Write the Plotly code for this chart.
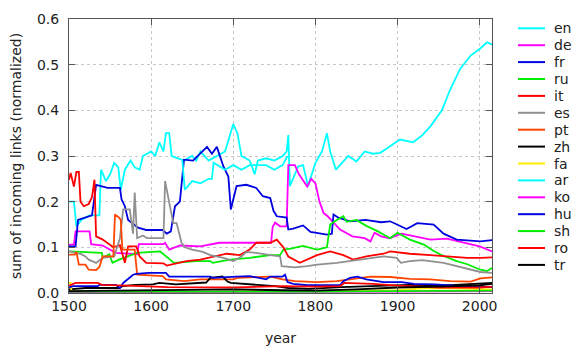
import plotly.graph_objects as go

en_years = [1500, 1506, 1509, 1515, 1525, 1537, 1539, 1545, 1550, 1555, 1560, 1563, 1568, 1575, 1580, 1586, 1590, 1600, 1605, 1610, 1615, 1618, 1622, 1625, 1640, 1650, 1655, 1660, 1670, 1680, 1690, 1695, 1700, 1705, 1710, 1720, 1726, 1730, 1740, 1750, 1760, 1765, 1767, 1769, 1779, 1785, 1791, 1800, 1808, 1814, 1818, 1825, 1830, 1840, 1850, 1860, 1870, 1879, 1890, 1903, 1919, 1930, 1940, 1954, 1964, 1976, 1989, 2001, 2009, 2015]
en_vals = [0.20, 0.20, 0.146, 0.16, 0.17, 0.17, 0.27, 0.245, 0.26, 0.285, 0.275, 0.226, 0.27, 0.29, 0.275, 0.27, 0.30, 0.31, 0.30, 0.33, 0.31, 0.35, 0.35, 0.30, 0.29, 0.30, 0.29, 0.31, 0.29, 0.30, 0.31, 0.34, 0.37, 0.35, 0.30, 0.29, 0.26, 0.29, 0.295, 0.29, 0.30, 0.31, 0.346, 0.234, 0.277, 0.28, 0.234, 0.285, 0.31, 0.35, 0.31, 0.27, 0.28, 0.30, 0.288, 0.31, 0.305, 0.307, 0.32, 0.336, 0.33, 0.345, 0.365, 0.40, 0.445, 0.49, 0.52, 0.536, 0.549, 0.544]

de_years = [1500, 1506, 1508, 1525, 1527, 1541, 1557, 1583, 1585, 1615, 1617, 1622, 1635, 1660, 1683, 1720, 1746, 1748, 1751, 1757, 1765, 1767, 1775, 1780, 1790, 1795, 1800, 1805, 1810, 1815, 1830, 1845, 1860, 1867, 1872, 1880, 1890, 1905, 1920, 1940, 1960, 1980, 2000, 2015]
de_vals = [0.106, 0.106, 0.135, 0.135, 0.107, 0.104, 0.088, 0.085, 0.107, 0.107, 0.11, 0.095, 0.104, 0.102, 0.11, 0.11, 0.11, 0.145, 0.154, 0.146, 0.146, 0.28, 0.28, 0.26, 0.233, 0.25, 0.24, 0.20, 0.175, 0.168, 0.139, 0.124, 0.12, 0.113, 0.132, 0.124, 0.12, 0.13, 0.124, 0.117, 0.119, 0.11, 0.102, 0.091]

fr_years = [1500, 1508, 1511, 1528, 1533, 1547, 1562, 1564, 1568, 1572, 1584, 1594, 1614, 1619, 1624, 1629, 1635, 1640, 1651, 1659, 1668, 1674, 1680, 1688, 1694, 1697, 1704, 1716, 1728, 1736, 1745, 1749, 1753, 1765, 1767, 1773, 1785, 1794, 1814, 1820, 1822, 1828, 1842, 1861, 1880, 1891, 1911, 1924, 1944, 1956, 1972, 2001, 2015]
fr_vals = [0.102, 0.102, 0.16, 0.17, 0.237, 0.23, 0.23, 0.205, 0.19, 0.16, 0.143, 0.138, 0.138, 0.13, 0.135, 0.19, 0.20, 0.292, 0.29, 0.305, 0.32, 0.305, 0.32, 0.277, 0.255, 0.183, 0.234, 0.237, 0.23, 0.212, 0.208, 0.18, 0.168, 0.165, 0.139, 0.141, 0.148, 0.134, 0.128, 0.13, 0.172, 0.165, 0.157, 0.16, 0.155, 0.157, 0.14, 0.153, 0.15, 0.13, 0.117, 0.113, 0.116]

ru_years = [1500, 1540, 1541, 1549, 1553, 1561, 1583, 1611, 1623, 1628, 1655, 1672, 1675, 1696, 1720, 1745, 1757, 1761, 1770, 1785, 1802, 1814, 1818, 1826, 1834, 1838, 1850, 1862, 1875, 1891, 1900, 1915, 1932, 1944, 1956, 1972, 1985, 2001, 2009, 2015]
ru_vals = [0.091, 0.088, 0.077, 0.085, 0.066, 0.073, 0.088, 0.091, 0.073, 0.066, 0.07, 0.07, 0.066, 0.073, 0.077, 0.083, 0.083, 0.095, 0.097, 0.103, 0.095, 0.10, 0.15, 0.16, 0.168, 0.156, 0.16, 0.147, 0.136, 0.12, 0.132, 0.117, 0.106, 0.092, 0.081, 0.07, 0.063, 0.051, 0.048, 0.055]

it_years = [1500, 1502, 1506, 1509, 1512, 1514, 1518, 1524, 1528, 1531, 1533, 1541, 1554, 1562, 1568, 1572, 1582, 1586, 1594, 1615, 1619, 1630, 1643, 1660, 1676, 1692, 1708, 1720, 1728, 1745, 1753, 1761, 1767, 1781, 1802, 1818, 1834, 1846, 1862, 1883, 1891, 1915, 1940, 1964, 1985, 2001, 2015]
it_vals = [0.248, 0.263, 0.233, 0.265, 0.265, 0.20, 0.19, 0.195, 0.21, 0.248, 0.124, 0.117, 0.10, 0.105, 0.066, 0.102, 0.102, 0.08, 0.066, 0.065, 0.06, 0.065, 0.07, 0.073, 0.08, 0.086, 0.083, 0.095, 0.11, 0.11, 0.117, 0.10, 0.08, 0.066, 0.083, 0.091, 0.083, 0.073, 0.08, 0.086, 0.091, 0.086, 0.083, 0.08, 0.077, 0.077, 0.078]

es_years = [1500, 1515, 1520, 1524, 1533, 1541, 1555, 1562, 1566, 1574, 1578, 1580, 1583, 1590, 1595, 1615, 1617, 1620, 1624, 1627, 1631, 1637, 1641, 1650, 1663, 1672, 1688, 1700, 1710, 1716, 1728, 1745, 1757, 1759, 1775, 1790, 1802, 1826, 1842, 1862, 1883, 1899, 1904, 1915, 1930, 1956, 1972, 1989, 2001, 2015]
es_vals = [0.091, 0.085, 0.08, 0.073, 0.066, 0.077, 0.08, 0.12, 0.183, 0.183, 0.13, 0.22, 0.12, 0.126, 0.12, 0.12, 0.245, 0.22, 0.18, 0.153, 0.153, 0.11, 0.10, 0.095, 0.09, 0.083, 0.077, 0.07, 0.08, 0.09, 0.088, 0.083, 0.08, 0.059, 0.056, 0.059, 0.062, 0.066, 0.07, 0.074, 0.08, 0.077, 0.066, 0.07, 0.072, 0.066, 0.059, 0.05, 0.046, 0.044]

pt_years = [1500, 1507, 1509, 1512, 1520, 1524, 1533, 1537, 1541, 1554, 1556, 1561, 1563, 1565, 1580, 1583, 1614, 1618, 1640, 1660, 1680, 1700, 1705, 1745, 1760, 1775, 1802, 1826, 1842, 1867, 1891, 1915, 1940, 1964, 1989, 2001, 2015]
pt_vals = [0.084, 0.084, 0.09, 0.062, 0.062, 0.051, 0.05, 0.057, 0.08, 0.08, 0.172, 0.165, 0.16, 0.095, 0.095, 0.04, 0.037, 0.03, 0.026, 0.03, 0.03, 0.03, 0.033, 0.036, 0.03, 0.026, 0.024, 0.026, 0.03, 0.036, 0.035, 0.031, 0.03, 0.026, 0.025, 0.032, 0.034]

zh_years = [1500, 1510, 1520, 1561, 1565, 1581, 1602, 1610, 1630, 1667, 1672, 1687, 1693, 1697, 1720, 1740, 1751, 1767, 1792, 1832, 1873, 1914, 1954, 1995, 2015]
zh_vals = [0.008, 0.01, 0.011, 0.011, 0.015, 0.018, 0.019, 0.022, 0.019, 0.023, 0.033, 0.036, 0.025, 0.022, 0.019, 0.017, 0.015, 0.011, 0.009, 0.013, 0.016, 0.018, 0.016, 0.02, 0.022]

fa_years = [1500, 1502, 1503, 1540, 1600, 1700, 1800, 1900, 1930, 1970, 2015]
fa_vals = [0.022, 0.022, 0.004, 0.003, 0.002, 0.003, 0.004, 0.006, 0.01, 0.01, 0.008]

ar_years = [1638, 1641, 1650, 1660, 1670, 1674, 1676, 1690, 1700, 1710, 1720, 1740, 1750, 1760, 1766]
ar_vals = [0.29, 0.226, 0.245, 0.24, 0.25, 0.25, 0.285, 0.27, 0.28, 0.27, 0.28, 0.28, 0.27, 0.28, 0.30]

ko_years = [1500, 1700, 1800, 1900, 2015]
ko_vals = [0.002, 0.002, 0.003, 0.003, 0.004]

hu_years = [1500, 1505, 1535, 1537, 1557, 1562, 1566, 1578, 1582, 1597, 1618, 1622, 1672, 1675, 1704, 1720, 1740, 1745, 1760, 1763, 1766, 1773, 1790, 1830, 1834, 1842, 1851, 1862, 1883, 1905, 1920, 1945, 1970, 1995, 2015]
hu_vals = [0.012, 0.015, 0.015, 0.018, 0.018, 0.011, 0.022, 0.04, 0.042, 0.044, 0.044, 0.036, 0.036, 0.033, 0.036, 0.037, 0.03, 0.036, 0.036, 0.04, 0.024, 0.02, 0.017, 0.017, 0.026, 0.033, 0.036, 0.03, 0.024, 0.024, 0.02, 0.019, 0.016, 0.014, 0.013]

sh_years = [1500, 1700, 1800, 1900, 2015]
sh_vals = [0.003, 0.002, 0.003, 0.004, 0.005]

ro_years = [1500, 1508, 1535, 1540, 1570, 1620, 1700, 1760, 1800, 1830, 1835, 1870, 1900, 1950, 2000, 2015]
ro_vals = [0.016, 0.022, 0.022, 0.018, 0.016, 0.013, 0.012, 0.015, 0.014, 0.015, 0.022, 0.02, 0.016, 0.012, 0.012, 0.014]

tr_years = [1500, 1560, 1620, 1700, 1760, 1800, 1850, 1900, 1950, 2000, 2015]
tr_vals = [0.004, 0.005, 0.006, 0.008, 0.006, 0.005, 0.008, 0.012, 0.014, 0.017, 0.02]

series = [
    ('en', en_years, en_vals, '#00ffff'),
    ('de', de_years, de_vals, '#ff00ff'),
    ('fr', fr_years, fr_vals, '#0000e0'),
    ('ru', ru_years, ru_vals, '#00ee00'),
    ('it', it_years, it_vals, '#ff0000'),
    ('es', es_years, es_vals, '#909090'),
    ('pt', pt_years, pt_vals, '#ff4500'),
    ('zh', zh_years, zh_vals, '#000000'),
    ('fa', fa_years, fa_vals, '#ffee00'),
    ('ar', ar_years, ar_vals, '#00ffff'),
    ('ko', ko_years, ko_vals, '#ff00ff'),
    ('hu', hu_years, hu_vals, '#0000e0'),
    ('sh', sh_years, sh_vals, '#00ee00'),
    ('ro', ro_years, ro_vals, '#ff0000'),
    ('tr', tr_years, tr_vals, '#000000'),
]

fig = go.Figure()
for name, xs, ys, col in series:
    fig.add_trace(go.Scatter(x=xs, y=ys, mode='lines', name=name, showlegend=False,
                             line=dict(color=col, width=1.8)))

# the page body adds an 8px margin, so the figure is sized 8px smaller
W, H = 573, 341
ML, MR, MT, MB = 61, 89, 11, 56
plot_w = W - ML - MR
plot_h = H - MT - MB

# legend drawn by hand: plotly's legend rows are too tall for 15 entries here
row = 16.9 / plot_h
top = 1 - 9.3 / plot_h
for i, (name, xs, ys, col) in enumerate(series):
    yy = top - i * row
    fig.add_shape(type='line', xref='paper', yref='paper',
                  x0=449 / plot_w, x1=476 / plot_w, y0=yy, y1=yy,
                  line=dict(color=col, width=2))
    fig.add_annotation(x=483 / plot_w, y=yy, xref='paper', yref='paper',
                       text=name, showarrow=False, xanchor='left', yanchor='middle',
                       font=dict(size=14, color='#222222'))

axis_style = dict(showline=True, linecolor='#555555', linewidth=1, mirror='ticks',
                  ticks='inside', ticklen=6, tickcolor='#555555',
                  showgrid=True, gridcolor='#c8c8c8', griddash='dot', gridwidth=1,
                  zeroline=False, automargin=False, tickfont=dict(size=14, color='#222222'))

fig.update_xaxes(range=[1500, 2015], dtick=100, tick0=1500,
                 title=dict(text='year', font=dict(size=14, color='#222222'), standoff=20),
                 **axis_style)
fig.update_yaxes(range=[0, 0.6], dtick=0.1, tickformat='.1f', ticklabelstandoff=6,
                 title=dict(text='sum of incoming links (normalized)', font=dict(size=14, color='#222222'), standoff=12),
                 **axis_style)

fig.update_layout(
    width=W, height=H,
    margin=dict(l=ML, r=MR, t=MT, b=MB),
    paper_bgcolor='white', plot_bgcolor='white',
    font=dict(family='DejaVu Sans', size=14, color='#222222'),
    showlegend=False,
)

fig.write_html("out.html")
